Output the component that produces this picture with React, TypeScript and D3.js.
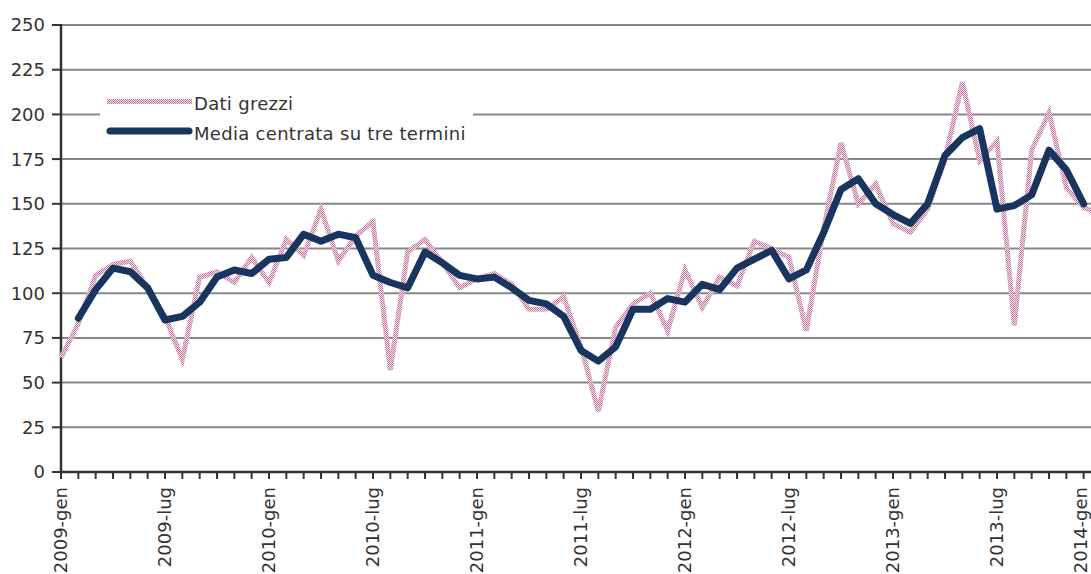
import React, { useEffect } from 'react';
import * as d3 from 'd3';

// months shown on the x axis (Italian abbreviations)
const years = [2009, 2010, 2011, 2012, 2013, 2014];
const monthNames = ['gen', 'feb', 'mar', 'apr', 'mag', 'giu', 'lug', 'ago', 'set', 'ott', 'nov', 'dic'];
const categories: string[] = [];
years.forEach((y) => monthNames.forEach((m) => categories.push(`${y}-${m}`)));
const months = categories.slice(0, 61); // 2009-gen .. 2014-gen

const yTicks = [0, 25, 50, 75, 100, 125, 150, 175, 200, 225, 250];

// Dati grezzi
const rawData = [
  64, 83, 110, 116, 118, 103, 87, 63, 109, 112, 106, 120,
  106, 130, 121, 147, 118, 132, 140, 57, 123, 130, 117, 103,
  108, 111, 105, 91, 91, 98, 70, 34, 81, 94, 100, 79,
  113, 92, 109, 104, 129, 125, 120, 79, 136, 184, 150, 161,
  139, 134, 147, 175, 218, 174, 185, 82, 180, 201, 159, 148,
  144,
];

// Media centrata su tre termini (no value for first and last month)
const movingAvg: (number | null)[] = [
  null, 86, 102, 114, 112, 103, 85, 87, 95, 109, 113, 111,
  119, 120, 133, 129, 133, 131, 110, 106, 103, 123, 117, 110,
  108, 109, 103, 96, 94, 87, 68, 62, 70, 91, 91, 97,
  95, 105, 102, 114, 119, 124, 108, 113, 134, 158, 164, 150,
  144, 139, 150, 177, 187, 192, 147, 149, 155, 180, 169, 150,
  null,
];

const legendItems = ['Dati grezzi', 'Media centrata su tre termini'];

const W = 1091;
const H = 574;
const FONT = '"DejaVu Sans", Verdana, sans-serif';

export default function App() {
  useEffect(() => {
    document.body.style.margin = '0';
  }, []);

  const x = d3.scaleLinear().domain([0, 60]).range([61, 1101]);
  const y = d3.scaleLinear().domain([0, 250]).range([472, 25]);

  const rawLine = d3
    .line<number>()
    .x((_, i) => x(i))
    .y((d) => y(d));

  const avgLine = d3
    .line<number | null>()
    .defined((d) => d !== null)
    .x((_, i) => x(i))
    .y((d) => y(d as number));

  return (
    <svg width={W} height={H} style={{ display: 'block', position: 'absolute', left: 0, top: 0 }}>
      <defs>
        <pattern id="chk" width="2" height="2" patternUnits="userSpaceOnUse">
          <rect width="2" height="2" fill="#f6e8ef" />
          <rect width="1" height="1" fill="#c4719b" />
          <rect x="1" y="1" width="1" height="1" fill="#c4719b" />
        </pattern>
      </defs>
      <rect width={W} height={H} fill="#fff" />

      {/* gridlines */}
      {yTicks.slice(1).map((t) => (
        <line key={t} x1={61} x2={W} y1={y(t)} y2={y(t)} stroke="#878787" strokeWidth={2} />
      ))}

      {/* y axis */}
      <line x1={61} x2={61} y1={y(250) - 1} y2={y(0)} stroke="#333" strokeWidth={2.5} />
      {yTicks.map((t) => (
        <g key={t}>
          <line x1={52} x2={61} y1={y(t)} y2={y(t)} stroke="#333" strokeWidth={2} />
          <text x={45} y={y(t)} dy="0.36em" textAnchor="end" fontFamily={FONT} fontSize={18} fill="#333">
            {t}
          </text>
        </g>
      ))}

      {/* x axis */}
      <line x1={60} x2={W} y1={y(0)} y2={y(0)} stroke="#333" strokeWidth={2.5} />
      {months.map((m, i) => (
        <line key={m} x1={x(i)} x2={x(i)} y1={y(0)} y2={y(0) + 7} stroke="#333" strokeWidth={2} />
      ))}
      {months.map((m, i) =>
        i % 6 === 0 ? (
          <text
            key={m}
            transform={`translate(${Math.min(x(i), 1081)},487) rotate(-90)`}
            dy="0.36em"
            textAnchor="end"
            fontFamily={FONT}
            fontSize={18}
            fill="#333"
          >
            {m}
          </text>
        ) : null
      )}

      {/* legend */}
      <rect x={100} y={84} width={373} height={62} fill="#fff" />
      <line x1={107} x2={192} y1={101.5} y2={101.5} stroke="url(#chk)" strokeWidth={5} />
      <line x1={110} x2={189} y1={131} y2={131} stroke="#18355f" strokeWidth={7} strokeLinecap="round" />
      <text x={194} y={110} fontFamily={FONT} fontSize={18} letterSpacing={0.3} fill="#333">
        {legendItems[0]}
      </text>
      <text x={194} y={140} fontFamily={FONT} fontSize={18} letterSpacing={0.3} fill="#333">
        {legendItems[1]}
      </text>

      {/* series */}
      <path d={rawLine(rawData) || ''} fill="none" stroke="url(#chk)" strokeWidth={5} strokeLinejoin="miter" />
      <path
        d={avgLine(movingAvg) || ''}
        fill="none"
        stroke="#18355f"
        strokeWidth={7}
        strokeLinejoin="round"
        strokeLinecap="round"
      />
    </svg>
  );
}
